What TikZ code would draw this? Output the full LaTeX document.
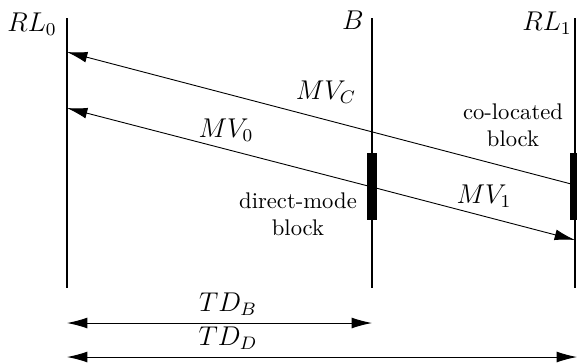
\documentclass[tikz,border=0pt]{standalone}
\usetikzlibrary{arrows.meta}
\begin{document}
\begin{tikzpicture}[x=0.442pt, y=-0.442pt, line join=round, >={Latex[length=9pt, width=4.8pt]}, mathlab/.style={font=\large}]
				\useasboundingbox (0,0) rectangle (577,362);
				% ==========================================
				% Các trục thời gian
				\coordinate (rl0top) at (67,18);   \coordinate (rl0bot) at (67,288);
				\coordinate (btop)   at (372,18);  \coordinate (bbot)   at (372,288);
				\coordinate (rl1top) at (575,18);  \coordinate (rl1bot) at (575,288);
				\draw[thick] (rl0top) -- (rl0bot);
				\draw[thick] (btop) -- (bbot);
				\draw[thick] (rl1top) -- (rl1bot);
				\node[mathlab] (rl0lab) at (32,24) {$RL_0$};
				\node[mathlab] (blab) at (353,20) {$B$};
				\node[mathlab] (rl1lab) at (547,23) {$RL_1$};
				% Các khối
				\coordinate (dmtop) at (372,153); \coordinate (dmbot) at (372,220);
				\coordinate (cltop) at (575,153); \coordinate (clbot) at (575,220);
				\draw[line width=4.4pt] (dmtop) -- (dmbot);
				\draw[line width=4.4pt] (cltop) -- (clbot);
				\node[align=center] (dmlab) at (298,214) {direct-mode\\block};
				\node[align=center] (cllab) at (513,125) {co-located\\block};
				% ==========================================
				% Các vector chuyển động
				\coordinate (mvcstart) at (575,185); \coordinate (mvcend) at (67,52);
				\coordinate (mvmid) at (372,187);
				\coordinate (mv0end) at (67,108); \coordinate (mv1end) at (575,240);
				\draw[->] (mvcstart) -- (mvcend);
				\draw[->] (mvmid) -- (mv0end);
				\draw[->] (mvmid) -- (mv1end);
				\node[mathlab] (mvclab) at (326,92) {$MV_C$};
				\node[mathlab] (mv0lab) at (226,130) {$MV_0$};
				\node[mathlab] (mv1lab) at (484,196) {$MV_1$};
				% ==========================================
				% Khoảng cách thời gian
				\coordinate (tdbl) at (67,323); \coordinate (tdbr) at (372,323);
				\coordinate (tddl) at (67,357); \coordinate (tddr) at (577,357);
				\draw[<->] (tdbl) -- (tdbr);
				\draw[<->] (tddl) -- (tddr);
				\node[mathlab] (tdblab) at (228,304) {$TD_B$};
				\node[mathlab] (tddlab) at (228,338) {$TD_D$};
			\end{tikzpicture}
\end{document}
